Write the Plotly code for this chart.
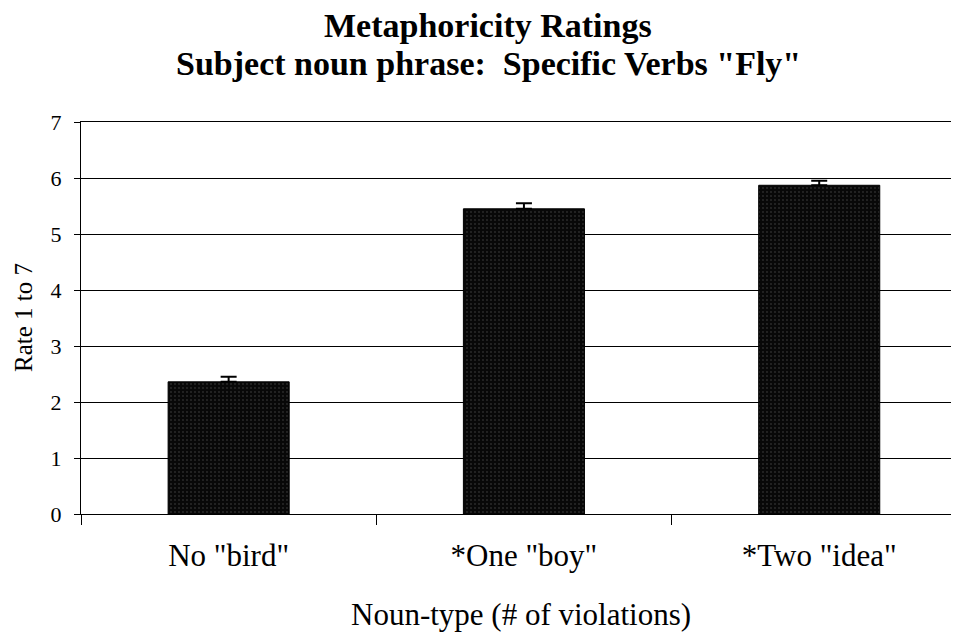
import plotly.graph_objects as go

categories = ['No "bird"', '*One "boy"', '*Two "idea"']
ratings = [2.36, 5.45, 5.87]
errors_up = [0.09, 0.10, 0.08]
y_ticks = [0, 1, 2, 3, 4, 5, 6, 7]

title_line1 = "Metaphoricity Ratings"
title_line2 = 'Subject noun phrase:  Specific Verbs "Fly"'
x_title = "Noun-type (# of violations)"
y_title = "Rate 1 to 7"

SERIF = "Liberation Serif"
OFF = 8  # page body margin

fig = go.Figure()
fig.add_trace(go.Bar(
    x=categories,
    y=ratings,
    width=0.41,
    marker=dict(
        color="#080808",
        line=dict(color="black", width=1),
        pattern=dict(shape=".", fgcolor="#8a8a8a", bgcolor="#080808", size=4, solidity=0.1),
    ),
    error_y=dict(type="data", symmetric=False, array=errors_up, arrayminus=[0, 0, 0],
                 color="black", thickness=2, width=8),
))

H = 392.0
W = 877.0
L = 81
def py(pix):
    return (514 - pix) / H
def px(pix):
    return (pix - L) / W

fig.update_layout(
    width=959 - OFF, height=637 - OFF,
    margin=dict(l=L - OFF, r=1, t=122 - OFF, b=123),
    paper_bgcolor="white", plot_bgcolor="white",
    showlegend=False,
    font=dict(family=SERIF, color="black"),
    xaxis=dict(
        type="category",
        range=[-0.5, 2.47],
        tickson="boundaries",
        ticks="outside", ticklen=10, tickcolor="black", tickwidth=1,
        ticklabelstandoff=14,
        showgrid=False,
        showline=True, linecolor="black", linewidth=1, mirror=True,
        tickfont=dict(family=SERIF, size=31, color="black"),
    ),
    yaxis=dict(
        range=[0, 7],
        tickvals=y_ticks,
        ticks="outside", ticklen=6, tickcolor="black",
        ticklabelstandoff=8,
        showgrid=True, gridcolor="black", gridwidth=1,
        showline=True, linecolor="black", linewidth=1,
        zeroline=False,
        tickfont=dict(family=SERIF, size=22, color="black"),
    ),
    annotations=[
        dict(text="<b>%s</b>" % title_line1, xref="paper", yref="paper",
             x=px(488), y=py(26), xanchor="center", yanchor="middle",
             showarrow=False, font=dict(family=SERIF, size=34, color="black")),
        dict(text="<b>%s</b>" % title_line2, xref="paper", yref="paper",
             x=px(488), y=py(64), xanchor="center", yanchor="middle",
             showarrow=False, font=dict(family=SERIF, size=34, color="black")),
        dict(text=x_title, xref="paper", yref="paper",
             x=px(521), y=py(614), xanchor="center", yanchor="middle",
             showarrow=False, font=dict(family=SERIF, size=31, color="black")),
        dict(text=y_title, xref="paper", yref="paper", textangle=-90,
             x=px(23), y=py(318), xanchor="center", yanchor="middle",
             showarrow=False, font=dict(family=SERIF, size=25, color="black")),
    ],
)

fig.write_html("out.html")
